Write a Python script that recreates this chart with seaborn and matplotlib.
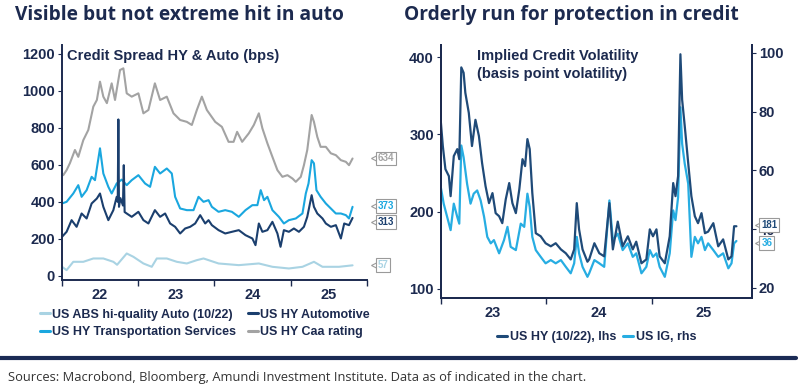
import numpy as np
import pandas as pd
import matplotlib
import matplotlib.pyplot as plt
import matplotlib.dates as mdates
import matplotlib.transforms as mtransforms
from matplotlib.lines import Line2D
import seaborn as sns

# ---------------- data ----------------
# left chart: credit spreads (bps)
caa_dates = ["2022-01-07", "2022-01-23", "2022-02-08", "2022-03-04", "2022-03-20", "2022-04-13", "2022-05-07",
             "2022-05-31", "2022-06-17", "2022-07-02", "2022-07-18", "2022-08-04", "2022-08-27", "2022-09-12",
             "2022-10-06", "2022-10-22", "2022-11-07", "2022-12-01", "2023-01-02", "2023-01-26", "2023-02-19",
             "2023-03-22", "2023-04-16", "2023-05-18", "2023-06-19", "2023-07-21", "2023-08-22", "2023-09-15",
             "2023-10-09", "2023-11-02", "2023-11-26", "2024-01-05", "2024-02-06", "2024-03-09", "2024-04-02",
             "2024-04-19", "2024-05-13", "2024-06-14", "2024-07-08", "2024-08-01", "2024-08-18", "2024-09-11",
             "2024-10-05", "2024-10-29", "2024-11-22", "2024-12-16", "2025-01-09", "2025-01-25", "2025-02-18",
             "2025-03-05", "2025-03-21", "2025-04-11", "2025-04-22", "2025-05-08", "2025-05-24", "2025-06-18",
             "2025-07-12", "2025-08-05", "2025-08-29", "2025-09-22", "2025-10-07", "2025-10-24"]
caa_vals = [544, 571, 609, 680, 643, 733, 788, 914, 950, 1049, 968, 933, 1040, 950, 1112, 1121, 986, 968,
            986, 878, 896, 1040, 950, 968, 878, 842, 832, 815, 896, 968, 896,
            832, 805, 724, 724, 778, 724, 770, 815, 878, 797, 716, 643, 571, 535, 544,
            526, 508, 535, 598, 680, 869, 832, 751, 697, 697, 662, 652, 625, 616, 598, 634]

trn_dates = ["2022-01-01", "2022-01-23", "2022-02-24", "2022-03-20", "2022-04-05", "2022-04-29", "2022-05-23",
             "2022-06-08", "2022-07-02", "2022-07-18", "2022-08-11", "2022-08-27", "2022-09-20", "2022-10-14",
             "2022-11-07", "2022-12-01", "2023-01-02", "2023-02-03", "2023-02-27", "2023-03-22", "2023-04-16",
             "2023-05-18", "2023-06-11", "2023-06-27", "2023-07-21", "2023-08-22", "2023-09-23", "2023-10-17",
             "2023-11-10", "2023-12-04", "2023-12-20", "2024-01-21", "2024-02-22", "2024-03-25", "2024-04-27",
             "2024-05-29", "2024-07-01", "2024-07-25", "2024-08-10", "2024-08-26", "2024-09-11", "2024-10-05",
             "2024-11-05", "2024-11-29", "2024-12-23", "2025-01-25", "2025-02-26", "2025-03-14", "2025-03-27",
             "2025-04-11", "2025-04-22", "2025-05-04", "2025-05-24", "2025-06-18", "2025-07-12", "2025-08-05",
             "2025-08-29", "2025-09-22", "2025-10-07", "2025-10-24"]
trn_vals = [391, 400, 445, 490, 427, 463, 535, 517, 689, 553, 481, 445, 499, 520, 490, 517,
            544, 499, 481, 589, 553, 580, 553, 427, 364, 355, 355, 427, 400, 409, 373,
            346, 355, 346, 319, 355, 382, 382, 463, 409, 427, 355, 319, 283, 301,
            310, 337, 445, 499, 625, 608, 463, 427, 391, 364, 337, 337, 328, 310, 373]

aut_dates = ["2022-01-01", "2022-01-23", "2022-02-16", "2022-03-12", "2022-04-05", "2022-04-29", "2022-05-23",
             "2022-06-17", "2022-07-02", "2022-07-18", "2022-08-11", "2022-09-04", "2022-09-20", "2022-09-25",
             "2022-09-28", "2022-10-01", "2022-10-08", "2022-10-20", "2022-10-24", "2022-10-28", "2022-11-07",
             "2022-12-01", "2023-01-02", "2023-01-26", "2023-02-19", "2023-03-22", "2023-04-16", "2023-05-10",
             "2023-06-03", "2023-06-27", "2023-07-21", "2023-08-14", "2023-09-07", "2023-10-01", "2023-10-25",
             "2023-11-18", "2023-12-04", "2023-12-20", "2024-01-21", "2024-02-22", "2024-03-25", "2024-04-27",
             "2024-05-29", "2024-07-01", "2024-07-16", "2024-08-01", "2024-08-18", "2024-09-11", "2024-10-05",
             "2024-10-29", "2024-11-13", "2024-11-29", "2024-12-23", "2025-01-16", "2025-02-09", "2025-03-05",
             "2025-03-21", "2025-04-11", "2025-04-22", "2025-05-08", "2025-06-02", "2025-06-18", "2025-07-12",
             "2025-08-05", "2025-08-29", "2025-09-14", "2025-10-07", "2025-10-24"]
aut_vals = [211, 238, 301, 265, 337, 310, 391, 418, 445, 373, 301, 355, 427, 400, 845, 373, 420, 380, 598, 345,
            337, 319,
            346, 301, 283, 355, 319, 337, 283, 265, 229, 256, 265, 283, 328, 283, 301, 274,
            247, 229, 238, 247, 220, 202, 166, 283, 238, 247, 292, 229, 157, 247, 238,
            256, 238, 265, 319, 436, 373, 337, 310, 283, 265, 274, 202, 283, 274, 313]

abs_dates = ["2022-01-01", "2022-01-23", "2022-02-24", "2022-04-13", "2022-05-31", "2022-07-18", "2022-09-04",
             "2022-09-22", "2022-11-07", "2022-12-09", "2023-01-26", "2023-03-07", "2023-03-31", "2023-05-18",
             "2023-07-05", "2023-08-22", "2023-10-09", "2023-11-10", "2024-01-21", "2024-04-27", "2024-08-01",
             "2024-10-05", "2024-12-23", "2025-02-26", "2025-04-22", "2025-06-02", "2025-08-20", "2025-10-24"]
abs_vals = [49, 31, 76, 76, 94, 94, 76, 60, 121, 103, 67, 49, 94, 94, 76, 67, 85, 94, 67, 58, 67, 49, 40, 49,
            76, 49, 49, 57]

# right chart: implied credit volatility
hy_dates = ["2023-01-01", "2023-01-08", "2023-01-17", "2023-01-29", "2023-02-04", "2023-02-15", "2023-02-27",
            "2023-03-06", "2023-03-13", "2023-03-21", "2023-03-27", "2023-04-08", "2023-04-19", "2023-05-01",
            "2023-05-13", "2023-05-24", "2023-06-05", "2023-06-17", "2023-06-29", "2023-07-10", "2023-07-22",
            "2023-08-02", "2023-08-14", "2023-08-26", "2023-09-06", "2023-09-18", "2023-09-30", "2023-10-11",
            "2023-10-20", "2023-10-28", "2023-11-05", "2023-11-14", "2023-11-26", "2023-12-13", "2023-12-30",
            "2024-01-17", "2024-02-03", "2024-02-21", "2024-03-09", "2024-03-26", "2024-04-07", "2024-04-16",
            "2024-04-24", "2024-05-06", "2024-05-23", "2024-05-29", "2024-06-16", "2024-07-03", "2024-07-20",
            "2024-08-07", "2024-08-19", "2024-09-05", "2024-09-22", "2024-10-10", "2024-10-27", "2024-11-08",
            "2024-11-26", "2024-12-13", "2024-12-25", "2025-01-05", "2025-01-17", "2025-01-28", "2025-02-15",
            "2025-03-04", "2025-03-16", "2025-03-24", "2025-04-02", "2025-04-10", "2025-04-16", "2025-04-25",
            "2025-05-07", "2025-05-18", "2025-05-30", "2025-06-10", "2025-06-22", "2025-07-04", "2025-07-15",
            "2025-08-02", "2025-08-19", "2025-09-05", "2025-09-23", "2025-10-04", "2025-10-13", "2025-10-21"]
hy_vals = [317, 285, 255, 246, 220, 272, 281, 268, 387, 380, 354, 328, 285, 319, 298, 263, 233, 211, 224, 198,
           194, 185, 216, 237, 211, 198, 229, 268, 259, 294, 281, 224, 172, 168, 159,
           155, 159, 151, 146, 138, 151, 211, 177, 151, 135, 138, 159, 146, 142, 211, 151, 187, 155, 168, 151,
           161, 133, 138, 177,
           168, 177, 142, 133, 168, 237, 220, 246, 404, 345, 311, 263, 220, 194, 185, 198, 172, 174, 185, 155,
           164, 138, 142, 181, 181]

ig_dates = ["2023-01-01", "2023-01-11", "2023-01-23", "2023-02-04", "2023-02-15", "2023-02-27", "2023-03-06",
            "2023-03-13", "2023-03-21", "2023-04-02", "2023-04-14", "2023-04-25", "2023-05-07", "2023-05-19",
            "2023-05-31", "2023-06-11", "2023-06-23", "2023-07-04", "2023-07-22", "2023-08-08", "2023-08-20",
            "2023-08-31", "2023-09-18", "2023-10-05", "2023-10-17", "2023-10-28", "2023-11-05", "2023-11-14",
            "2023-11-26", "2023-12-13", "2023-12-30", "2024-01-17", "2024-02-03", "2024-02-21", "2024-03-09",
            "2024-03-26", "2024-04-07", "2024-04-16", "2024-04-24", "2024-05-06", "2024-05-23", "2024-05-29",
            "2024-06-16", "2024-07-03", "2024-07-20", "2024-08-07", "2024-08-19", "2024-09-05", "2024-09-22",
            "2024-10-10", "2024-10-27", "2024-11-08", "2024-11-26", "2024-12-13", "2024-12-25", "2025-01-05",
            "2025-01-17", "2025-01-28", "2025-02-15", "2025-03-04", "2025-03-16", "2025-03-24", "2025-04-02",
            "2025-04-10", "2025-04-16", "2025-04-25", "2025-05-07", "2025-05-18", "2025-05-30", "2025-06-10",
            "2025-06-22", "2025-07-04", "2025-07-15", "2025-08-02", "2025-08-19", "2025-09-05", "2025-09-23",
            "2025-10-04", "2025-10-13", "2025-10-21"]
ig_vals = [54.3, 48.7, 44.2, 39.7, 48.7, 44.2, 41.9, 68.5, 64.5, 55.5, 48.7, 52.1, 53.2, 49.8, 44.2, 37.4, 35.2,
           36.3, 31.8, 36.3, 40.8, 34.0, 32.9, 41.9, 40.8, 52.1, 47.6, 37.4, 32.9, 30.6, 28.4,
           29.5, 28.4, 29.5, 27.2, 25.0, 28.4, 37.4, 31.8, 27.2, 23.8, 25.0, 29.5, 28.4, 27.2, 49.8, 36.3, 38.5,
           32.9, 35.2, 30.6, 31.8, 25.0, 27.2, 32.9,
           30.6, 31.8, 27.2, 23.8, 31.8, 46.4, 43.1, 50.9, 81.5, 69.1, 62.3, 55.5, 30.6, 37.4, 35.2, 37.4, 32.9,
           35.2, 32.9, 30.6, 31.8, 26.7, 28.4, 35.2, 36]

left_labels = ["US ABS hi-quality Auto (10/22)", "US HY Transportation Services", "US HY Automotive",
               "US HY Caa rating"]
right_labels = ["US HY (10/22), lhs", "US IG, rhs"]

# colours
NAVY = "#1c2a4f"
C_ABS = "#a9d3e3"
C_AUT = "#1b3f6e"
C_TRN = "#1aa7df"
C_CAA = "#a3a3a3"
C_HY = "#1f4a78"
C_IG = "#27ade2"

sns.set_theme(style="white")
plt.rcParams['font.family'] = ['Liberation Sans', 'DejaVu Sans']
plt.rcParams['font.weight'] = 'bold'

fig = plt.figure(figsize=(8, 3.88), dpi=100)
axL = fig.add_axes([0.0775, 0.278, 0.3812, 0.606])
axR = fig.add_axes([0.551, 0.232, 0.389, 0.652])
axR2 = axR.twinx()


def frame(d, v):
    return pd.DataFrame({"date": pd.to_datetime(d), "value": v})


sns.lineplot(data=frame(abs_dates, abs_vals), x="date", y="value", ax=axL, color=C_ABS, lw=1.5)
sns.lineplot(data=frame(caa_dates, caa_vals), x="date", y="value", ax=axL, color=C_CAA, lw=1.5)
sns.lineplot(data=frame(trn_dates, trn_vals), x="date", y="value", ax=axL, color=C_TRN, lw=1.5)
sns.lineplot(data=frame(aut_dates, aut_vals), x="date", y="value", ax=axL, color=C_AUT, lw=1.5)

sns.lineplot(data=frame(hy_dates, hy_vals), x="date", y="value", ax=axR, color=C_HY, lw=1.6)
sns.lineplot(data=frame(ig_dates, ig_vals), x="date", y="value", ax=axR2, color=C_IG, lw=1.6)
# keep the HY line (lhs) drawn above the IG line (rhs)
axR2.set_zorder(axR.get_zorder() - 1)
axR.patch.set_visible(False)
axR.set_zorder(axR2.get_zorder() + 1)

# axes styling
axL.set_xlim(pd.Timestamp("2022-01-01"), pd.Timestamp("2026-01-01"))
axL.set_ylim(-23, 1247)
axL.set_yticks([0, 200, 400, 600, 800, 1000, 1200])
for ax in (axL, axR, axR2):
    ax.set_xlabel("")
    ax.set_ylabel("")
    ax.xaxis.set_major_locator(mdates.YearLocator())
    ax.xaxis.set_minor_locator(mdates.MonthLocator(bymonth=7, bymonthday=1))
    ax.xaxis.set_major_formatter(matplotlib.ticker.NullFormatter())
    ax.xaxis.set_minor_formatter(mdates.DateFormatter("%y"))
    ax.tick_params(axis="x", which="major", length=4, width=1, color=NAVY, direction="out", bottom=True)
    ax.tick_params(axis="x", which="minor", length=0, labelsize=10.5, labelcolor=NAVY, pad=6)
    ax.tick_params(axis="y", length=3, width=0.8, color=NAVY, labelsize=10.5, labelcolor=NAVY, pad=2)

axL.spines[["top", "right"]].set_visible(False)
for s in ("left", "bottom"):
    axL.spines[s].set_color(NAVY)
    axL.spines[s].set_linewidth(1.4)
axL.tick_params(axis="y", left=True)

axR.set_xlim(pd.Timestamp("2023-01-01"), pd.Timestamp("2025-12-14"))
axR.set_ylim(88, 416)
axR.set_yticks([100, 200, 300, 400])
axR2.set_ylim(16.6, 102.7)
axR2.set_yticks([20, 40, 60, 80, 100])
axR.tick_params(axis="y", left=True)
axR2.tick_params(axis="y", right=True)
for ax in (axR, axR2):
    ax.spines["top"].set_visible(False)
    for s in ("left", "right", "bottom"):
        ax.spines[s].set_color(NAVY)
        ax.spines[s].set_linewidth(1.4)

# inner chart titles
axL.text(0.018, 0.985, "Credit Spread HY & Auto (bps)", transform=axL.transAxes, fontsize=10.5,
         color=NAVY, va="top", ha="left")
axR.text(0.117, 0.985, "Implied Credit Volatility\n(basis point volatility)", transform=axR.transAxes,
         fontsize=10.5, color=NAVY, va="top", ha="left", linespacing=1.35)


# end-of-series value tags: small box with a pointer on its left
def tag(ax, y, txt, color, x):
    ax.annotate(txt, xy=(x, y), xycoords=("axes fraction", "data"), fontsize=7, color=color,
                ha="left", va="center", zorder=10, annotation_clip=False,
                bbox=dict(boxstyle="square,pad=0.2", fc="white", ec="#9a9a9a", lw=0.8))
    tr = mtransforms.blended_transform_factory(ax.transAxes, ax.transData)
    ax.plot([x - 0.012], [y], marker="<", ms=5, mfc="white", mec="#9a9a9a", mew=0.8,
            transform=tr, clip_on=False, zorder=9)


tag(axL, caa_vals[-1], str(caa_vals[-1]), C_CAA, 1.035)
tag(axL, trn_vals[-1] + 6, str(trn_vals[-1]), C_TRN, 1.035)
tag(axL, aut_vals[-1] - 20, str(aut_vals[-1]), C_AUT, 1.035)
tag(axL, abs_vals[-1], str(abs_vals[-1]), C_ABS, 1.035)
tag(axR, hy_vals[-1] + 2, str(hy_vals[-1]), C_HY, 1.03)
tag(axR2, ig_vals[-1] - 0.8, str(round(ig_vals[-1])), C_IG, 1.03)

# legends
hl = [Line2D([], [], color=c, lw=2.2) for c in (C_ABS, C_TRN, C_AUT, C_CAA)]
fig.legend(hl, left_labels, loc="center", bbox_to_anchor=(0.256, 0.166), ncol=2, frameon=False,
           fontsize=9, handlelength=0.8, handletextpad=0.2, columnspacing=0.9, labelspacing=0.45,
           labelcolor=NAVY)
hr = [Line2D([], [], color=c, lw=2.2) for c in (C_HY, C_IG)]
fig.legend(hr, right_labels, loc="center", bbox_to_anchor=(0.746, 0.131), ncol=2, frameon=False,
           fontsize=9, handlelength=0.8, handletextpad=0.2, columnspacing=0.6, labelcolor=NAVY)

# titles
fig.text(0.019, 0.962, "Visible but not extreme hit in auto", fontsize=13.8, color=NAVY,
         family=["Open Sans", "DejaVu Sans"], weight="bold", va="center")
fig.text(0.505, 0.962, "Orderly run for protection in credit", fontsize=13.8, color=NAVY,
         family=["Open Sans", "DejaVu Sans"], weight="bold", va="center")

# footer rule and source
fig.add_artist(Line2D([0.0, 0.995], [0.077, 0.077], transform=fig.transFigure, color="#1b2b55", lw=3))
fig.text(0.01, 0.028, "Sources: Macrobond, Bloomberg, Amundi Investment Institute. Data as of indicated in the chart.",
         fontsize=9.3, color="#333333", family=["Open Sans", "DejaVu Sans"], weight="normal", va="center")

fig.savefig("out.png", dpi=100)
